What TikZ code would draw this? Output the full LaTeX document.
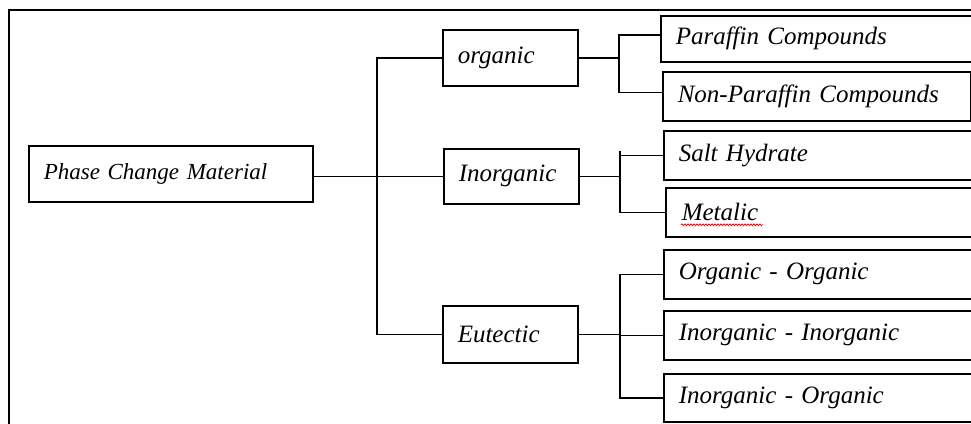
\documentclass[tikz,border=0pt]{standalone}
\usepackage{fontspec}
\setmainfont{Liberation Serif}
\usetikzlibrary{decorations.pathmorphing}
\begin{document}
\begin{tikzpicture}[x=1pt,y=-1pt,
  box/.style={draw, line width=1.5pt, rectangle, anchor=north west, inner xsep=15pt, inner ysep=0pt,
    font=\fontsize{25}{29}\selectfont\itshape, align=left},
  conn/.style={line width=1.5pt}]
\useasboundingbox (0,0) rectangle (971,423);
\clip (0,0) rectangle (971,423);
\fill[white] (0,0) rectangle (971,423);
\draw[line width=1.8pt] (9,440) -- (9,10) -- (990,10);

\node[box, minimum height=56pt, text width=254pt, font=\fontsize{23}{27}\selectfont\itshape] (pcm) at (28,145) {\raisebox{4pt}{Phase Change Material}};
\node[box, minimum height=56pt, text width=105pt] (org) at (442,29) {organic};
\node[box, minimum height=55pt, text width=105pt] (inorg) at (443,148) {Inorganic};
\node[box, minimum height=57pt, text width=105pt] (eut) at (442,305) {Eutectic};

\node[box, minimum height=46pt, text width=300pt] (par) at (660,15) {Paraffin Compounds};
\node[box, minimum height=49pt, text width=278pt] (np) at (662,71) {Non-Paraffin Compounds};
\node[box, minimum height=49pt, text width=297pt] (salt) at (663,130) {Salt Hydrate};
\node[box, minimum height=49pt, inner xsep=16pt, text width=293pt] (met) at (665,187) {Metalic};
\node[box, minimum height=49pt, text width=297pt] (oo) at (663,249) {Organic - Organic};
\node[box, minimum height=49pt, text width=297pt] (ii) at (663,310) {Inorganic - Inorganic};
\node[box, minimum height=48pt, text width=297pt] (io) at (663,373) {Inorganic - Organic};

\draw[red, line width=0.8pt, decorate, decoration={snake, amplitude=0.9pt, segment length=3pt}]
  ([xshift=16pt, yshift=-4pt]met.base west) -- ++(82,0);

\coordinate (tk) at (377,0);
\draw[conn] (org.west) -- (org.west -| tk) -- (eut.west -| tk) -- (eut.west);
\draw[conn] (pcm.east |- inorg.west) -- (inorg.west);

\coordinate (b1) at (619,0);
\draw[conn] (org.east) -- (org.east -| b1);
\draw[conn] ([yshift=4pt]par.west) -- ([yshift=4pt]par.west -| b1) -- ([yshift=4pt]np.west -| b1) -- ([yshift=4pt]np.west);

\coordinate (b2) at (620,0);
\draw[conn] (inorg.east) -- (inorg.east -| b2);
\draw[conn] ([yshift=4pt]salt.west -| b2) -- (met.west -| b2) -- (met.west);
\draw[conn] (salt.west -| b2) -- (salt.west);

\coordinate (b3) at (620,0);
\draw[conn] (eut.east) -- (eut.east -| b3);
\draw[conn] (oo.west) -- (oo.west -| b3) -- (io.west -| b3) -- (io.west);
\draw[conn] (ii.west -| b3) -- (ii.west);
\end{tikzpicture}
\end{document}
